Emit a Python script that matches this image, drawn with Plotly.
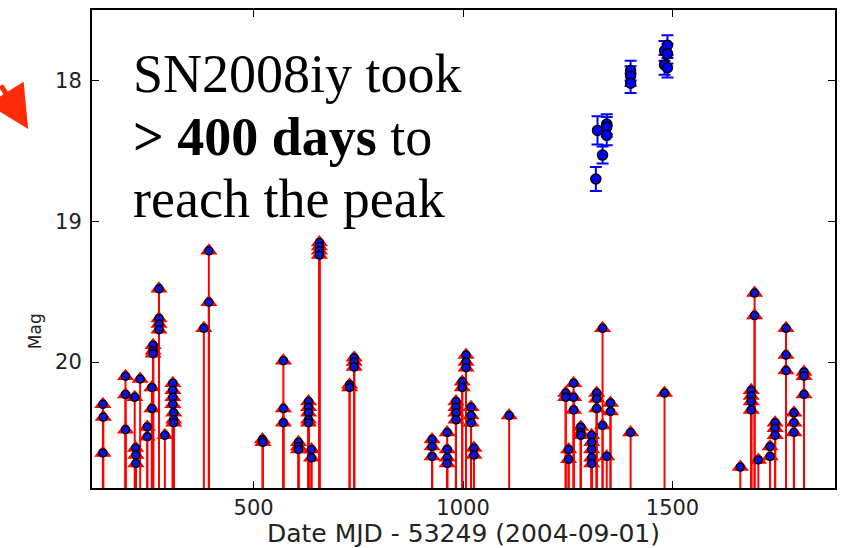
import plotly.graph_objects as go

# Detections of SN2008iy (days since MJD 53249, magnitude, error)
det_days = [1317, 1321, 1333, 1343, 1343, 1343, 1400, 1400, 1400, 1481, 1481, 1488, 1488, 1488]
det_mag = [18.70, 18.355, 18.53, 18.31, 18.33, 18.39, 17.93, 17.97, 18.02, 17.79, 17.89, 17.75, 17.81, 17.91]
det_err = [0.085, 0.10, 0.06, 0.07, 0.07, 0.07, 0.07, 0.07, 0.07, 0.07, 0.07, 0.07, 0.07, 0.07]

# Upper limits (days, limiting magnitude)
lim_days = [140, 141, 140,
            194, 194, 194,
            218, 219, 219, 216, 229,
            246, 246,
            257, 257,
            260, 260, 260,
            274, 274, 274, 274,
            288,
            307, 307, 307, 307, 309, 309, 309,
            381,
            393, 393,
            521, 522,
            571, 571, 571,
            607, 607, 607,
            631, 631, 631, 631, 631,
            638, 638,
            657, 657, 657, 657,
            729, 729,
            740, 740, 740,
            926, 926, 926,
            962, 962, 962, 962,
            983, 983, 983, 983,
            998, 998,
            1007, 1007, 1007,
            1019, 1019, 1019,
            1026, 1026,
            1110,
            1245, 1245,
            1252, 1252,
            1264, 1264, 1264,
            1281, 1281, 1281,
            1307, 1307, 1307, 1307, 1307,
            1319, 1319, 1319,
            1333, 1333,
            1343,
            1352, 1352,
            1400,
            1481,
            1662,
            1688, 1688, 1688, 1688,
            1696, 1696,
            1705,
            1733, 1733,
            1745, 1745, 1745,
            1771, 1771, 1771,
            1790, 1790, 1790,
            1814, 1814, 1814]
lim_mag = [20.30, 20.39, 20.645,
           20.10, 20.23, 20.48,
           20.61, 20.66, 20.72, 20.25, 20.12,
           20.46, 20.53,
           20.18, 20.33,
           19.88, 19.92, 19.94,
           19.48, 19.69, 19.73, 19.77,
           20.52,
           20.15, 20.20, 20.25, 20.30, 20.36, 20.41, 20.43,
           19.76,
           19.21, 19.575,
           20.55, 20.57,
           19.99, 20.33, 20.43,
           20.57, 20.60, 20.62,
           20.28, 20.32, 20.36, 20.41, 20.43,
           20.62, 20.68,
           19.15, 19.18, 19.21, 19.24,
           20.16, 20.18,
           19.97, 20.00, 20.035,
           20.55, 20.60, 20.67,
           20.50, 20.62, 20.68, 20.72,
           20.28, 20.32, 20.36, 20.41,
           20.14, 20.18,
           19.95, 20.00, 20.04,
           20.32, 20.38, 20.43,
           20.61, 20.66,
           20.38,
           20.22, 20.25,
           20.62, 20.69,
           20.15, 20.25, 20.34,
           20.46, 20.50, 20.52,
           20.52, 20.57, 20.62, 20.68, 20.72,
           20.22, 20.26, 20.33,
           19.76, 20.45,
           20.67,
           20.29, 20.35,
           20.50,
           20.22,
           20.745,
           20.20, 20.24, 20.28, 20.34,
           19.51, 19.67,
           20.695,
           20.60, 20.67,
           20.43, 20.47, 20.52,
           19.76, 19.95, 20.06,
           20.36, 20.43, 20.50,
           20.07, 20.10, 20.23]

LIMIT_FLOOR = 21.0
x_ticks = [500, 1000, 1500]
y_ticks = [18, 19, 20]

fig = go.Figure()

# vertical red lines for upper limits
lx, ly = [], []
for d, m in zip(lim_days, lim_mag):
    lx += [d, d, None]
    ly += [m, LIMIT_FLOOR, None]
fig.add_trace(go.Scatter(x=lx, y=ly, mode="lines", line=dict(color="#ff0000", width=2),
                         hoverinfo="skip", showlegend=False))
fig.add_trace(go.Scatter(x=lim_days, y=lim_mag, mode="markers",
                         marker=dict(symbol="triangle-up", size=15, color="#ff0000",
                                     line=dict(width=0)),
                         showlegend=False))
fig.add_trace(go.Scatter(x=lim_days, y=lim_mag, mode="markers",
                         marker=dict(symbol="circle", size=8, color="#1010e0",
                                     line=dict(color="black", width=1.5)),
                         showlegend=False))

# detections
fig.add_trace(go.Scatter(x=det_days, y=det_mag, mode="markers",
                         error_y=dict(type="data", array=det_err, color="#0000ff",
                                      thickness=2, width=6),
                         marker=dict(symbol="circle", size=10, color="#0000ff",
                                     line=dict(color="black", width=1.5)),
                         showlegend=False))

# plot area in window pixels: x 92..837, y 10..488
W, H = 842, 548
L, R, T, B = 92, 5, 10, 60
PW, PH = W - L - R, H - T - B


def px(xw):
    return (xw - L) / PW


def py(yw):
    return (H - B - yw) / PH


serif = "Liberation Serif, Times New Roman, serif"
for txt, yc in [("SN2008iy took", 74), ("<b>> 400 days</b> to", 137), ("reach the peak", 199)]:
    fig.add_annotation(xref="paper", yref="paper", x=px(131), y=py(yc),
                       xanchor="left", yanchor="middle", showarrow=False,
                       text=txt, font=dict(family=serif, size=54, color="black"))

# y-axis label (placed as in the reference, below the axis centre)
fig.add_annotation(xref="paper", yref="paper", x=px(35), y=py(331),
                   xanchor="center", yanchor="middle", showarrow=False, textangle=-90,
                   text="Mag", font=dict(family="DejaVu Sans, sans-serif", size=17,
                                         color="#222222"))

# partial red arrow at the left edge
fig.add_annotation(xref="paper", yref="paper", x=px(28), y=py(129),
                   ax=-60, ay=-45, showarrow=True, arrowhead=2, arrowsize=1.7,
                   arrowwidth=5, arrowcolor="#ff2a0a", text="")

axis_font = dict(family="DejaVu Sans, sans-serif", size=21, color="#222222")
fig.update_xaxes(range=[114, 1888], tickvals=x_ticks, ticks="inside", ticklen=7,
                 tickcolor="black", mirror="allticks", showline=True, linecolor="black",
                 linewidth=2, showgrid=False, zeroline=False, tickfont=axis_font,
                 ticklabelstandoff=0,
                 title=dict(text="Date MJD - 53249 (2004-09-01)",
                            font=dict(family="DejaVu Sans, sans-serif", size=25, color="#222222"),
                            standoff=3))
fig.update_yaxes(range=[20.894, 17.5], tickvals=y_ticks, ticks="inside", ticklen=7,
                 tickcolor="black", mirror="allticks", showline=True, linecolor="black",
                 linewidth=2, showgrid=False, zeroline=False, tickfont=axis_font,
                 ticklabelstandoff=4)
fig.update_layout(width=W, height=H, margin=dict(l=L, r=R, t=T, b=B),
                  plot_bgcolor="white", paper_bgcolor="white")

fig.write_html("out.html", config={"displayModeBar": False},
               post_script="document.body.style.margin='0px';")
